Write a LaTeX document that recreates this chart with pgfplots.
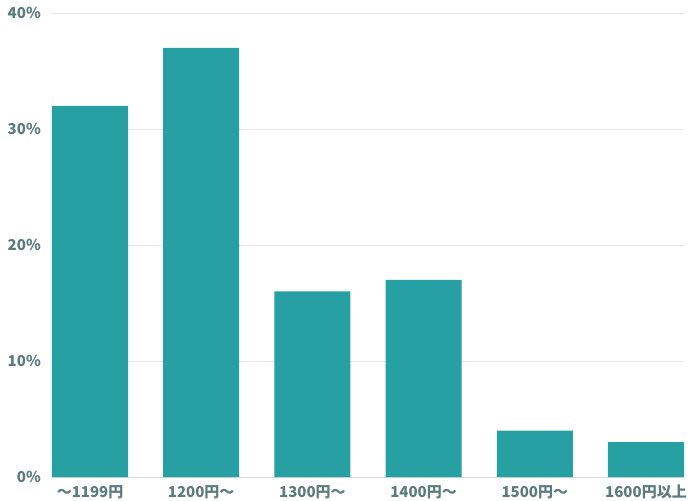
\documentclass[border=0pt]{standalone}
\usepackage{fontspec}
\setmainfont{Noto Sans CJK JP}
\usepackage{pgfplots}
\pgfplotsset{compat=1.18}
\usetikzlibrary{calc}
\definecolor{barteal}{HTML}{26A0A3}
\definecolor{labgray}{HTML}{5C7B7D}
\definecolor{gridgray}{HTML}{E8E8E8}
\definecolor{basegray}{HTML}{D6D9DA}

\begin{document}
\begin{tikzpicture}
\begin{axis}[
    scale only axis,
    width=632pt,
    height=464pt,
    ybar,
    bar width=0.684,
    xmin=-0.342, xmax=5.342,
    ymin=0, ymax=40,
    xtick=data,
    xticklabels={〜1199円,1200円〜,1300円〜,1400円〜,1500円〜,1600円以上},
    ytick={0,10,20,30,40},
    yticklabel={\pgfmathprintnumber{\tick}\%},
    /pgf/number format/assume math mode=true,
    major tick length=0pt,
    ymajorgrids,
    major grid style={gridgray, line width=0.8pt},
    axis x line*=bottom,
    axis y line*=left,
    x axis line style={basegray, line width=0.8pt},
    y axis line style={draw=none},
    tick label style={font=\fontsize{15}{17}\selectfont\bfseries, text=labgray},
    yticklabel style={inner sep=0pt, anchor=east, xshift=-11pt},
    xticklabel style={inner sep=0pt, anchor=base, yshift=-20pt},
    clip=false
]
\addplot[fill=barteal, draw=none] coordinates {
    (0,32) (1,37) (2,16) (3,17) (4,4) (5,3)
};
\end{axis}
\path[use as bounding box] ($(current axis.south west)+(-52pt,-23pt)$) rectangle ($(current axis.north east)+(11pt,13pt)$);
\end{tikzpicture}
\end{document}
